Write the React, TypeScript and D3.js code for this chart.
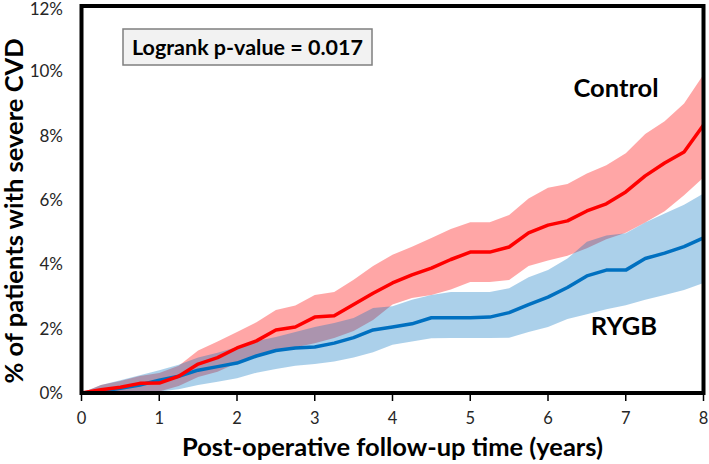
import React from 'react';
import * as d3 from 'd3';

// follow-up time (years) and cumulative incidence (%)
const years = [0, 0.25, 0.5, 0.75, 1, 1.25, 1.5, 1.75, 2, 2.25, 2.5, 2.75, 3, 3.25, 3.5, 3.75, 4, 4.25, 4.5, 4.75, 5, 5.25, 5.5, 5.75, 6, 6.25, 6.5, 6.75, 7, 7.25, 7.5, 7.75, 8];

const controlMean = [0, 0.1, 0.18, 0.3, 0.31, 0.52, 0.9, 1.1, 1.4, 1.62, 1.96, 2.05, 2.36, 2.4, 2.75, 3.1, 3.42, 3.67, 3.88, 4.15, 4.38, 4.38, 4.54, 4.98, 5.22, 5.35, 5.66, 5.88, 6.25, 6.75, 7.15, 7.49, 8.33];
const controlUpper = [0, 0.25, 0.37, 0.53, 0.62, 0.85, 1.32, 1.6, 1.9, 2.2, 2.58, 2.72, 3.05, 3.14, 3.52, 3.95, 4.3, 4.55, 4.82, 5.1, 5.31, 5.31, 5.53, 6.05, 6.38, 6.5, 6.82, 7.08, 7.45, 8.05, 8.45, 9.0, 9.9];
const controlLower = [0, 0, 0, 0.05, 0.05, 0.22, 0.5, 0.66, 0.93, 1.18, 1.34, 1.42, 1.55, 1.71, 1.93, 2.27, 2.75, 2.95, 3.05, 3.22, 3.45, 3.45, 3.51, 3.95, 4.12, 4.27, 4.5, 4.78, 4.98, 5.3, 5.65, 6.15, 6.7];

const rygbMean = [0, 0.05, 0.15, 0.25, 0.4, 0.52, 0.71, 0.82, 0.93, 1.15, 1.32, 1.4, 1.43, 1.55, 1.72, 1.96, 2.05, 2.15, 2.34, 2.34, 2.34, 2.36, 2.5, 2.75, 2.98, 3.28, 3.64, 3.82, 3.82, 4.18, 4.35, 4.55, 4.82];
const rygbUpper = [0, 0.25, 0.4, 0.55, 0.71, 0.88, 1.1, 1.25, 1.43, 1.62, 1.74, 1.9, 2.05, 2.18, 2.33, 2.64, 2.7, 2.9, 3.05, 3.14, 3.14, 3.14, 3.26, 3.6, 3.82, 4.18, 4.7, 4.9, 4.97, 5.3, 5.58, 5.85, 6.2];
const rygbLower = [0, 0, 0, 0, 0.05, 0.12, 0.25, 0.35, 0.46, 0.63, 0.75, 0.85, 0.9, 0.98, 1.1, 1.27, 1.5, 1.6, 1.7, 1.71, 1.71, 1.71, 1.72, 1.9, 2.05, 2.3, 2.45, 2.6, 2.73, 2.9, 3.05, 3.2, 3.42];

const xTicks = [0, 1, 2, 3, 4, 5, 6, 7, 8];
const yTicks = [0, 2, 4, 6, 8, 10, 12];

const font = 'Lato, "Open Sans", sans-serif';

export default function App() {
  const x = d3.scaleLinear().domain([0, 8]).range([81.5, 703.5]);
  const y = d3.scaleLinear().domain([0, 12]).range([393, 7]);
  const idx = years.map((_, i) => i);

  const band = (lo: number[], hi: number[]) =>
    d3.area<number>()
      .x(i => x(years[i]))
      .y0(i => y(lo[i]))
      .y1(i => y(hi[i]))(idx) || '';
  const line = (v: number[]) =>
    d3.line<number>()
      .x(i => x(years[i]))
      .y(i => y(v[i]))(idx) || '';

  return (
    <div style={{ position: 'absolute', left: 0, top: 0 }}>
      <svg width={709} height={464} style={{ display: 'block', background: '#fff' }} fontFamily={font}>
        {/* confidence bands */}
        <path d={band(controlLower, controlUpper)} fill="#ff0000" fillOpacity={0.35} />
        <path d={band(rygbLower, rygbUpper)} fill="#0070c0" fillOpacity={0.33} />

        {/* curves */}
        <path d={line(rygbMean)} fill="none" stroke="#0070c0" strokeWidth={3.5} strokeLinejoin="round" />
        <path d={line(controlMean)} fill="none" stroke="#ff0000" strokeWidth={3.5} strokeLinejoin="round" />

        {/* frame */}
        <rect x={x(0)} y={6} width={x(8) - x(0)} height={y(0) - 6} fill="none" stroke="#000" strokeWidth={4} />

        {/* x axis ticks */}
        {xTicks.map(t => (
          <g key={t} transform={`translate(${x(t)},0)`}>
            <line y1={y(0)} y2={y(0) + 8} stroke="#000" strokeWidth={1.5} />
            <text y={424} textAnchor="middle" fontSize={16.5} fill="#262626">{t}</text>
          </g>
        ))}

        {/* y axis labels */}
        {yTicks.map(t => (
          <text key={t} x={63} y={Math.max(y(t), 9)} dy="0.36em" textAnchor="end" fontSize={17} fill="#262626">{t}%</text>
        ))}

        {/* logrank box */}
        <rect x={123} y={29} width={249} height={36} fill="#f2f2f2" stroke="#7f7f7f" strokeWidth={1.5} />
        <text x={132} y={55} fontSize={21.5} fontWeight="bold" fill="#000">Logrank p-value = 0.017</text>

        {/* series labels */}
        <text x={616} y={97} textAnchor="middle" fontSize={25.5} fontWeight="bold" fill="#000">Control</text>
        <text x={624} y={335} textAnchor="middle" fontSize={25.5} fontWeight="bold" fill="#000">RYGB</text>

        {/* axis titles */}
        <text x={392.5} y={456} textAnchor="middle" fontSize={25.5} fontWeight="bold" fill="#000">Post-operative follow-up time (years)</text>
        <text transform="translate(23,211) rotate(-90)" textAnchor="middle" fontSize={25.5} fontWeight="bold" fill="#000">% of patients with severe CVD</text>
      </svg>
    </div>
  );
}
